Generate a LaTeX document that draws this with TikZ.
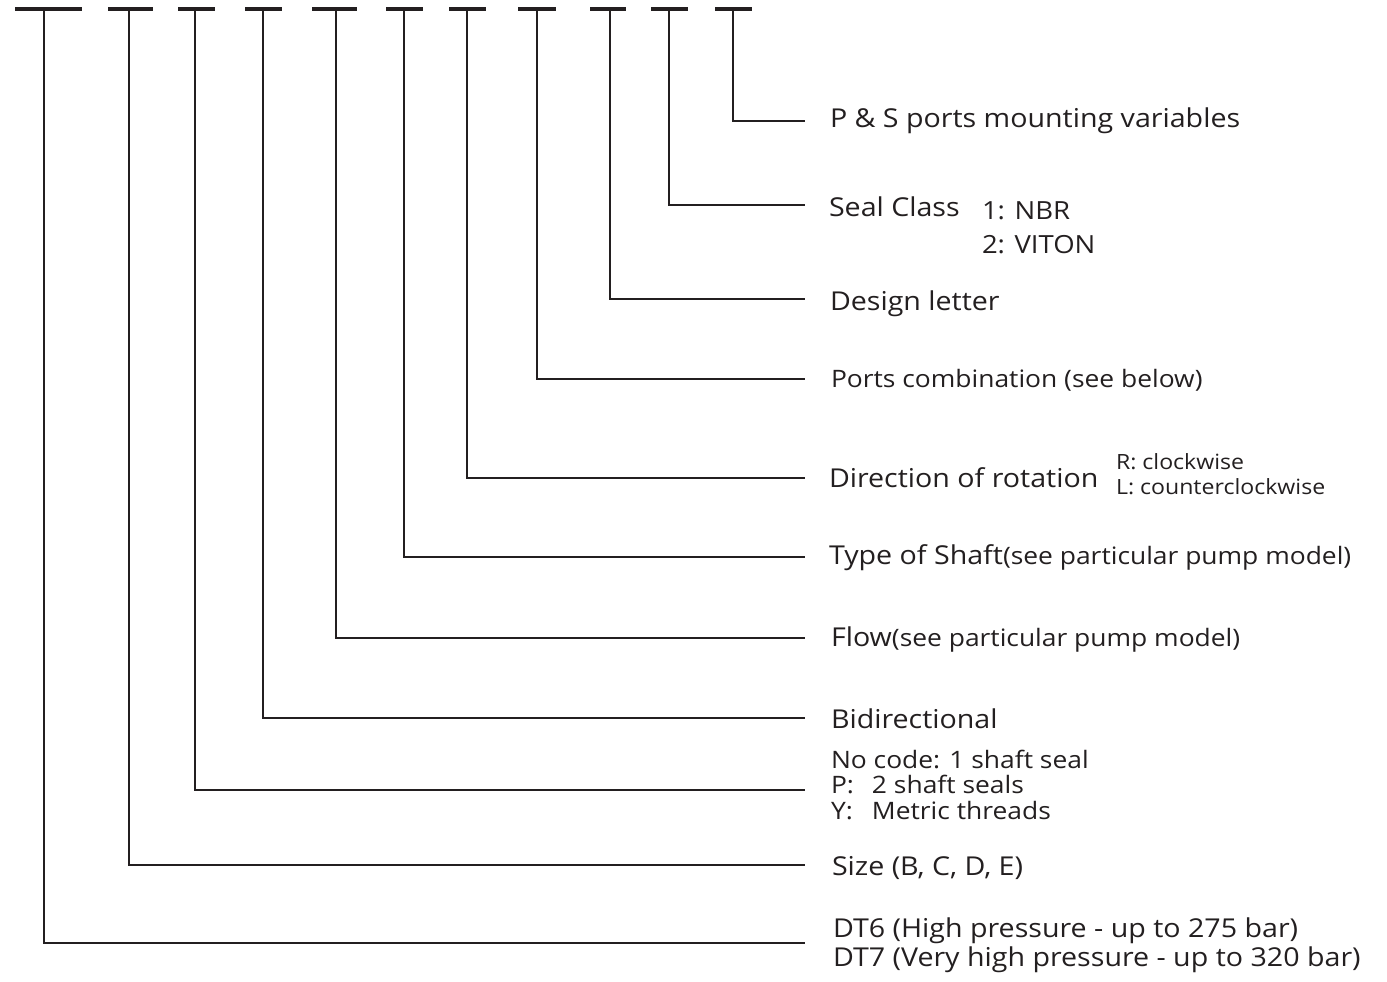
\documentclass[tikz,border=0pt]{standalone}
\usepackage{fontspec}
\setmainfont{Open Sans}[FakeStretch=1.1]
\definecolor{ink}{HTML}{231F20}
\newcommand\mainsz{\fontsize{26}{30}\selectfont}
\newcommand\subsz{\fontsize{24}{28}\selectfont}
\newcommand\tinysz{\fontsize{21}{24}\selectfont}
\newcommand\listsz{\fontsize{25}{29}\selectfont}
\begin{document}
\begin{tikzpicture}[x=1pt,y=-1pt,
  lead/.style={draw=ink,line width=2.8pt,line cap=butt,line join=miter},
  bar/.style={draw=ink,line width=3.4pt},
  lbl/.style={anchor=base west,inner sep=0pt,outer sep=0pt,text=ink}]
\useasboundingbox (0,0) rectangle (1387,982);
% top bars, verticals and leaders: index / vertical x / level y / bar left / bar right
\foreach \i/\vx/\ly/\bl/\br in {
  1/44/943/15/82,
  2/129/865/108/153,
  3/195/790/178/215,
  4/263/718/245/282,
  5/336/638/312/357,
  6/404/557/386/423,
  7/467/478/449/486,
  8/537/379/518/556,
  9/610/299/590/626,
  10/669/205/651/688,
  11/733/121/715/752}{
  \coordinate (t\i) at (\vx,9);
  \coordinate (bl\i) at (\bl,9);
  \coordinate (br\i) at (\br,9);
  \coordinate (e\i) at (805,\ly);
  \draw[bar] (bl\i) -- (br\i);
  \draw[lead] (t\i) |- (e\i);
}
% labels
\node[lbl] (ps) at (830,127) {\mainsz P \& S ports mounting variables};
\node[lbl] (seal) at (829,216) {\mainsz Seal Class};
\node[lbl] (nbr) at (982,219) {\listsz 1: NBR};
\node[lbl] (viton) at (982,253) {\listsz 2: VITON};
\node[lbl] (design) at (830,310) {\mainsz Design letter};
\node[lbl] (ports) at (831,387) {\subsz Ports combination (see below)};
\node[lbl] (dir) at (829,487) {\mainsz Direction of rotation};
\node[lbl] (rcw) at (1116,469) {\tinysz R: clockwise};
\node[lbl] (lccw) at (1116,494) {\tinysz L: counterclockwise};
\node[lbl] (shaft) at (829,564) {\mainsz Type of Shaft\subsz(see particular pump model)};
\node[lbl] (flow) at (831,646) {\mainsz Flow\subsz(see particular pump model)};
\node[lbl] (bidir) at (831,728) {\mainsz Bidirectional};
\node[lbl] (nocode) at (831,768) {\subsz No code: 1 shaft seal};
\node[lbl] (pseal) at (831,793) {\subsz\makebox[41pt][l]{P:}2 shaft seals};
\node[lbl] (ymet) at (831,819) {\subsz\makebox[41pt][l]{Y:}Metric threads};
\node[lbl] (size) at (832,875) {\mainsz Size (B, C, D, E)};
\node[lbl] (dt6) at (833,937) {\mainsz DT6 (High pressure - up to 275 bar)};
\node[lbl] (dt7) at (833,966) {\mainsz DT7 (Very high pressure - up to 320 bar)};
\end{tikzpicture}
\end{document}
